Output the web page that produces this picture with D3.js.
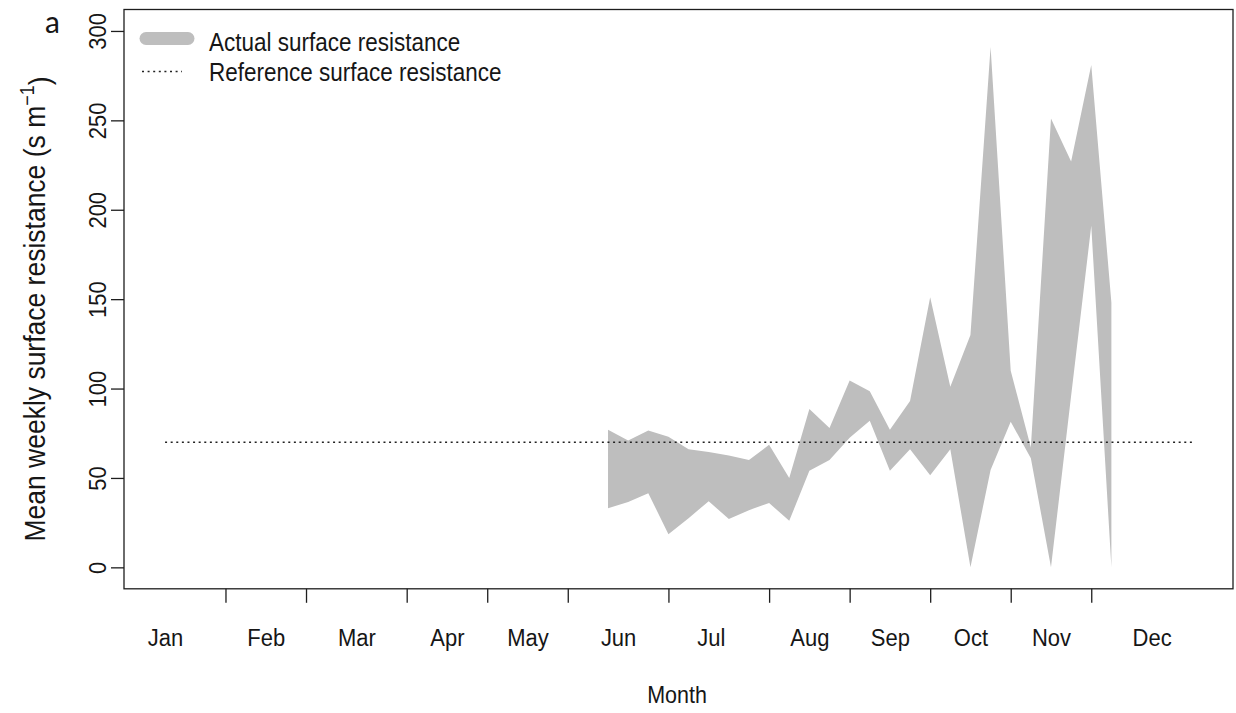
<!DOCTYPE html>
<html>
<head>
<meta charset="utf-8">
<script src="https://cdn.jsdelivr.net/npm/d3@7"></script>
<style>
  html, body { margin: 0; padding: 0; background: #ffffff; }
  svg { display: block; }
  text { font-family: Arial, "Liberation Sans", sans-serif; fill: #161616; }
</style>
</head>
<body>
<svg id="chart" width="1236" height="713"></svg>
<script>
// Weekly surface resistance band (s m^-1), weeks of the year
const weeks = [23, 24, 25, 26, 27, 28, 29, 30, 31, 32, 33, 34, 35, 36, 37, 38, 39, 40, 41, 42, 43, 44, 45, 46, 47, 48];
const upperResistance = [77, 71, 76.5, 73, 66, 64.5, 62.5, 60, 68.5, 50, 88.5, 78, 104.5, 98.5, 77, 93, 151, 101, 130, 291, 110, 67, 251, 227, 281, 148];
const lowerResistance = [33, 36.5, 41.5, 18.5, 27.5, 37, 27, 32, 36, 26, 54, 60, 72.5, 82, 54, 66, 51.5, 66, 0, 54.5, 81.5, 61, 0, 96, 191, 0];

// Reference surface resistance, drawn across the whole year
const referenceResistance = 70;
const referenceWeeks = [1, 52];

// Axes
const yTicks = [0, 50, 100, 150, 200, 250, 300];
const monthBoundaryWeeks = [4, 8, 13, 17, 21, 26, 31, 35, 39, 43, 47];
const monthLabels = ["Jan", "Feb", "Mar", "Apr", "May", "Jun", "Jul", "Aug", "Sep", "Oct", "Nov", "Dec"];
const monthLabelWeeks = [1, 6, 10.5, 15, 19, 23.5, 28.1, 33, 37, 41, 45, 50];

const legendLabels = ["Actual surface resistance", "Reference surface resistance"];

// ---- layout ----
const box = { left: 124, right: 1233, top: 9.5, bottom: 588.8 };
const pad = 0.04;                      // R-style axis padding
const xDom = [1, 52], yDom = [0, 300];
const xSpan = xDom[1] - xDom[0], ySpan = yDom[1] - yDom[0];
const TEXT_STRETCH = 1.12;             // glyphs drawn a little taller than wide

const x = d3.scaleLinear()
  .domain([xDom[0] - pad * xSpan, xDom[1] + pad * xSpan])
  .range([box.left, box.right]);
const y = d3.scaleLinear()
  .domain([yDom[0] - pad * ySpan, yDom[1] + pad * ySpan])
  .range([box.bottom, box.top]);

const svg = d3.select("#chart");
const ink = "#1e1e1e";

// shaded band between lower and upper weekly resistance
const band = weeks.map((w, i) => ({ w, lo: lowerResistance[i], hi: upperResistance[i] }));
svg.append("path")
  .datum(band)
  .attr("fill", "#BEBEBE")
  .attr("stroke", "none")
  .attr("d", d3.area()
    .x(d => x(d.w))
    .y0(d => y(d.lo))
    .y1(d => y(d.hi)));

// reference line
svg.append("line")
  .attr("x1", x(referenceWeeks[0])).attr("x2", x(referenceWeeks[1]))
  .attr("y1", y(referenceResistance)).attr("y2", y(referenceResistance))
  .attr("stroke", "#222")
  .attr("stroke-width", 1.5)
  .attr("stroke-dasharray", "2,3.6");

// plot frame
svg.append("rect")
  .attr("x", box.left).attr("y", box.top)
  .attr("width", box.right - box.left).attr("height", box.bottom - box.top)
  .attr("fill", "none").attr("stroke", ink).attr("stroke-width", 1.3);

// y axis
const yAxis = svg.append("g")
  .attr("transform", `translate(${box.left},0)`)
  .call(d3.axisLeft(y).tickValues(yTicks).tickSize(13).tickFormat(d3.format("d")));
yAxis.select(".domain").remove();
yAxis.selectAll(".tick line").attr("stroke", ink).attr("stroke-width", 1.3);
yAxis.selectAll(".tick text")
  .attr("x", null).attr("dy", null)
  .attr("text-anchor", "middle")
  .attr("transform", `translate(-18,0) rotate(-90) scale(1,${TEXT_STRETCH})`)
  .style("font-size", "22px")
  .style("font-family", "Arial, 'Liberation Sans', sans-serif")
  .attr("fill", "#161616");

// x axis: month boundary ticks
const xTickAxis = svg.append("g")
  .attr("transform", `translate(0,${box.bottom})`)
  .call(d3.axisBottom(x).tickValues(monthBoundaryWeeks).tickSize(14).tickFormat(""));
xTickAxis.select(".domain").remove();
xTickAxis.selectAll(".tick line").attr("stroke", ink).attr("stroke-width", 1.3);

// x axis: month names
const xLabelAxis = svg.append("g")
  .attr("transform", `translate(0,${box.bottom})`)
  .call(d3.axisBottom(x).tickValues(monthLabelWeeks).tickSize(0)
    .tickFormat((d, i) => monthLabels[i]));
xLabelAxis.select(".domain").remove();
xLabelAxis.selectAll(".tick line").remove();
xLabelAxis.selectAll(".tick text")
  .attr("y", null).attr("dy", null)
  .attr("transform", `translate(0,57) scale(1,${TEXT_STRETCH})`)
  .style("font-size", "22px")
  .style("font-family", "Arial, 'Liberation Sans', sans-serif")
  .attr("fill", "#161616");

// axis titles
svg.append("text")
  .attr("transform", `translate(677,703) scale(1,${TEXT_STRETCH})`)
  .attr("text-anchor", "middle")
  .style("font-size", "21.5px")
  .text("Month");

const yTitle = svg.append("text")
  .attr("transform", `translate(45,309) rotate(-90) scale(1,${TEXT_STRETCH})`)
  .attr("text-anchor", "middle")
  .style("font-size", "26.5px");
yTitle.append("tspan").text("Mean weekly surface resistance (s m");
yTitle.append("tspan").attr("dy", "-0.55em").style("font-size", "18px").text("\u22121");
yTitle.append("tspan").attr("dy", "0.55em").text(")");

// panel letter
svg.append("text")
  .attr("x", 45).attr("y", 33)
  .style("font-family", "Lato, 'Open Sans', sans-serif")
  .style("font-size", "30px")
  .attr("fill", "#000")
  .text("a");

// legend
svg.append("line")
  .attr("x1", 146).attr("x2", 188).attr("y1", 38.5).attr("y2", 38.5)
  .attr("stroke", "#BEBEBE").attr("stroke-width", 13).attr("stroke-linecap", "round");
svg.append("line")
  .attr("x1", 142).attr("x2", 182).attr("y1", 71.5).attr("y2", 71.5)
  .attr("stroke", "#222").attr("stroke-width", 1.5).attr("stroke-dasharray", "2,3.6");
legendLabels.forEach((label, i) => {
  svg.append("text")
    .attr("transform", `translate(209,${51 + i * 30}) scale(1,${TEXT_STRETCH})`)
    .style("font-size", "22.5px")
    .text(label);
});
</script>
</body>
</html>
